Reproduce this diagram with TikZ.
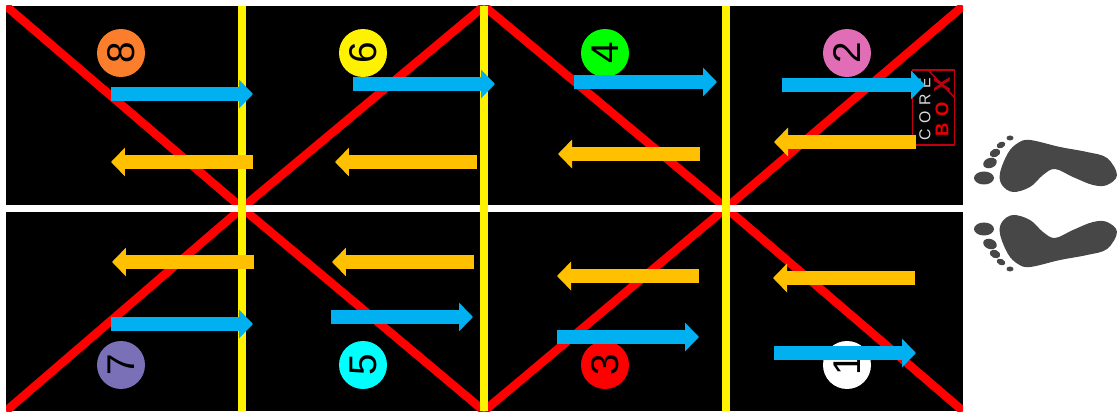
\documentclass[tikz,border=0pt]{standalone}
\usepackage{fontspec}
\setmainfont{Liberation Sans}
\usetikzlibrary{arrows.meta}
\definecolor{bluearrow}{HTML}{00B0F0}
\definecolor{orangearrow}{HTML}{FFC000}
\definecolor{footgray}{HTML}{474747}
\definecolor{logored}{HTML}{C00010}
\definecolor{dot8}{HTML}{FA7E2C}
\definecolor{dot2}{HTML}{E06DB5}
\definecolor{dot7}{HTML}{7A70B8}
\definecolor{dot5}{HTML}{00FFFF}
\definecolor{dot4}{HTML}{00FF00}
\tikzset{
    panel/.style={fill=black},
    redline/.style={draw=red, line width=0.17cm},
    yellowline/.style={draw=yellow, line width=0.17cm},
    whiteline/.style={draw=white, line width=0.15cm},
    numdot/.style={circle, minimum size=0.96cm, inner sep=0pt, font=\fontsize{22}{22}\selectfont, rotate=90},
    blockarrow/.style={line width=0.28cm, -{Triangle[length=0.28cm, width=0.56cm]}},
    footprint/.pic={
        \fill[footgray] plot[smooth cycle, tension=0.6] coordinates {(1030,140) (1060,147) (1087,152) (1107,158) (1117,175) (1107,185) (1093,185) (1073,177) (1055,169) (1043,175) (1030,187) (1013,192) (1002,185) (1000,173) (1008,153) (1018,143)};
        \fill[footgray] (984,178) ellipse [x radius=10, y radius=6.5];
        \fill[footgray, rotate around={20:(990,163)}] (990,163) ellipse [x radius=7, y radius=5];
        \fill[footgray, rotate around={25:(995,153)}] (995,153) ellipse [x radius=5.5, y radius=4];
        \fill[footgray, rotate around={25:(1001,145)}] (1001,145) ellipse [x radius=4.5, y radius=3];
        \fill[footgray] (1010,138) ellipse [x radius=3.5, y radius=2.5];
    }
}
\begin{document}
\begin{tikzpicture}[x=0.02cm, y=-0.02cm]
    \useasboundingbox (0,0) rectangle (1117,412);
    \fill[panel] (6,6) rectangle (963,411);

    \coordinate (tl) at (6,6);
    \coordinate (tm) at (484,6);
    \coordinate (tr) at (963,6);
    \coordinate (cl) at (242,208);
    \coordinate (cr) at (726,208);
    \coordinate (bl) at (6,411);
    \coordinate (bm) at (484,411);
    \coordinate (br) at (963,411);

    \begin{scope}
        \clip (6,6) rectangle (963,411);
        \draw[redline] (tl) -- (cl);
        \draw[redline] (tm) -- (cl);
        \draw[redline] (tm) -- (cr);
        \draw[redline] (tr) -- (cr);
        \draw[redline] (bl) -- (cl);
        \draw[redline] (bm) -- (cl);
        \draw[redline] (bm) -- (cr);
        \draw[redline] (br) -- (cr);
    \end{scope}

    \coordinate (ml) at (6,208.5);
    \coordinate (mr) at (963,208.5);
    \draw[whiteline] (ml) -- (mr);

    \foreach \x/\name in {242/a, 484/b, 726/c} {
        \coordinate (y\name t) at (\x,6);
        \coordinate (y\name b) at (\x,411);
        \draw[yellowline] (y\name t) -- (y\name b);
    }

    \node[numdot, fill=dot8] (n8) at (121,53) {8};
    \node[numdot, fill=yellow] (n6) at (363,53) {6};
    \node[numdot, fill=dot4] (n4) at (605,53) {4};
    \node[numdot, fill=dot2] (n2) at (847,53) {2};
    \node[numdot, fill=dot7] (n7) at (121,365) {7};
    \node[numdot, fill=dot5] (n5) at (363,365) {5};
    \node[numdot, fill=red] (n3) at (605,365) {3};
    \node[numdot, fill=white] (n1) at (847,365) {1};

    \node[draw=logored, line width=0.03cm, minimum width=0.84cm, minimum height=1.5cm, inner sep=0pt] (logo) at (933.5,107.5) {};
    \coordinate (logoa) at (928,70);
    \coordinate (logob) at (955,98);
    \draw[logored, line width=0.03cm] (logoa) -- (logob);
    \node[rotate=90, text=white!85!black, font=\fontsize{9}{9}\selectfont] (core) at (925,109) {C\hspace{3.2pt}O\hspace{3.2pt}R\hspace{3.2pt}E};
    \node[rotate=90, text=red!90!black, font=\bfseries\fontsize{10.5}{10.5}\selectfont] (box) at (942,119) {B\hspace{4pt}O};
    \node[rotate=90, text=logored, font=\bfseries\fontsize{13}{13}\selectfont] (boxx) at (942,85) {X};

    \foreach \xa/\xb/\y/\name in {111/253/94/8, 353/495/84/6, 574/717/82/4, 782/925/85/2, 111/253/324/7, 331/473/317/5, 557/699/337/3, 774/916/353/1} {
        \coordinate (bs\name) at (\xa,\y);
        \coordinate (be\name) at (\xb,\y);
        \draw[blockarrow, bluearrow] (bs\name) -- (be\name);
    }

    \foreach \xa/\xb/\y/\name in {253/111/162/8, 477/335/162/6, 700/558/154/4, 916/774/142/2, 254/112/262/7, 474/332/262/5, 699/557/276/3, 915/773/278/1} {
        \coordinate (os\name) at (\xa,\y);
        \coordinate (oe\name) at (\xb,\y);
        \draw[blockarrow, orangearrow] (os\name) -- (oe\name);
    }

    \pic at (0,0) {footprint};
    \pic[yscale=-1] at (0,407) {footprint};
\end{tikzpicture}
\end{document}
